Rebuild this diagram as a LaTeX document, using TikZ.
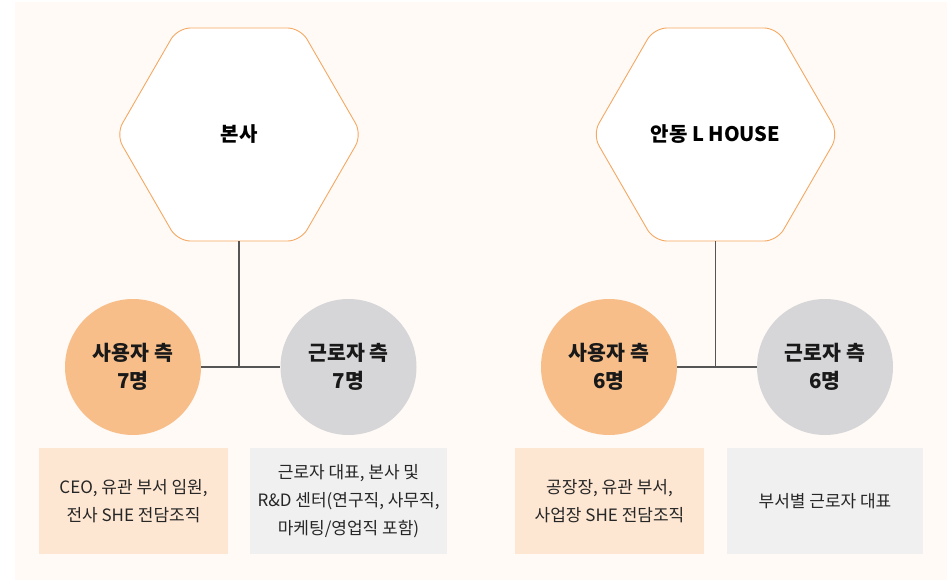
\documentclass[tikz,border=0pt]{standalone}
\usepackage{fontspec}
\setmainfont{Noto Sans CJK KR}
\usetikzlibrary{shapes.geometric}
\definecolor{bgc}{HTML}{FFFAF5}
\definecolor{hexline}{HTML}{F5A862}
\definecolor{orc}{HTML}{F7BE8A}
\definecolor{grc}{HTML}{D6D6D9}
\definecolor{orbox}{HTML}{FDE6D2}
\definecolor{grbox}{HTML}{F0F0F0}
\definecolor{lnc}{HTML}{555555}
\begin{document}
\begin{tikzpicture}[x=1pt,y=-1pt,
  hexnode/.style={regular polygon, regular polygon sides=6, minimum size=246pt, inner sep=0pt,
     draw=hexline, line width=0.9pt, fill=white, rounded corners=13pt,
     font=\fontsize{20}{24}\selectfont\bfseries},
  circnode/.style={circle, minimum size=136pt, inner sep=0pt, align=center,
     font=\fontsize{20.5}{28}\selectfont\bfseries, text=black!90},
  boxnode/.style={minimum height=106pt, inner sep=0pt, align=center,
     font=\fontsize{17}{28}\selectfont, text=black!85},
  conn/.style={draw=lnc, line width=1.1pt}
]
\useasboundingbox (0,0) rectangle (950,580);
\fill[bgc] (15,2) rectangle (947,580);

% left group
\node[hexnode] (hexA) at (239,134.5) {본사};
\node[circnode, fill=orc] (cA1) at (133,367) {사용자 측\\7명};
\node[circnode, fill=grc] (cA2) at (348.5,367) {근로자 측\\7명};
\node[boxnode, fill=orbox, minimum width=189pt] (bA1) at (133.5,501) {CEO, 유관 부서 임원,\\전사 SHE 전담조직};
\node[boxnode, fill=grbox, minimum width=197pt] (bA2) at (348.5,501) {근로자 대표, 본사 및\\R\&D 센터(연구직, 사무직,\\마케팅/영업직 포함)};
\coordinate (jA) at (hexA.south |- cA1.east);
\draw[conn] (hexA.south) -- (jA);
\draw[conn] (cA1.east) -- (cA2.west);

% right group
\node[hexnode] (hexB) at (715.5,134.5) {안동 L HOUSE};
\node[circnode, fill=orc] (cB1) at (609,367) {사용자 측\\6명};
\node[circnode, fill=grc] (cB2) at (825,367) {근로자 측\\6명};
\node[boxnode, fill=orbox, minimum width=189pt] (bB1) at (609.5,501) {공장장, 유관 부서,\\사업장 SHE 전담조직};
\node[boxnode, fill=grbox, minimum width=196pt] (bB2) at (825,501) {부서별 근로자 대표};
\coordinate (jB) at (hexB.south |- cB1.east);
\draw[conn] (hexB.south) -- (jB);
\draw[conn] (cB1.east) -- (cB2.west);
\end{tikzpicture}
\end{document}
